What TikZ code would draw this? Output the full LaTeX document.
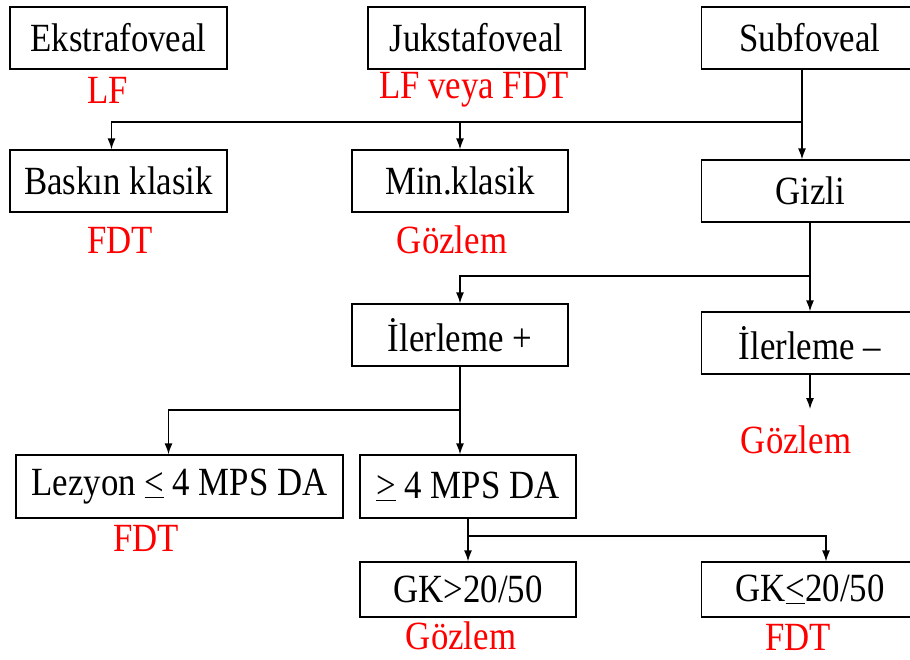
\documentclass[tikz,border=0pt]{standalone}
\usepackage{fontspec}
\setmainfont{Liberation Serif}[FakeStretch=0.87]
\usetikzlibrary{arrows.meta,positioning}
\definecolor{MyRed}{HTML}{FF0000}

\begin{document}
\begin{tikzpicture}[x=1pt,y=-1pt,
            every node/.style={align=center,font=\fontsize{40}{42}\selectfont},
            box/.style={draw,line width=1.3pt,minimum width=217pt,minimum height=62pt,inner sep=0pt},
            res/.style={text=MyRed},
            link/.style={line width=1.3pt,-{Latex[length=11pt,width=8pt]}}
        ]
        \useasboundingbox (0,0) rectangle (910,659);

        % first row
        \node at (118.5,38) [box] (ekstra) {Ekstrafoveal};
        \node at (476.5,38) [box] (juksta) {Jukstafoveal};
        \node at (810,38) [box] (subfo) {Subfoveal};
        \node at (108,90) [res] (lf) {LF};
        \node at (474,90) [res] (lffdt) {LF veya FDT};

        % second row
        \node at (118.5,181) [box] (baskin) {Baskın klasik};
        \node at (460,181) [box,minimum width=216pt] (minkl) {Min.klasik};
        \node at (810,191) [box] (gizli) {Gizli};
        \node at (120,240) [res] (fdta) {FDT};
        \node at (452,240) [res] (gozla) {Gözlem};

        % third row
        \node at (460,335) [box,minimum width=216pt] (ilerp) {İlerleme +};
        \node at (810,343) [box] (ilerm) {İlerleme –};
        \node at (796,440) [res] (gozlb) {Gözlem};

        % fourth row
        \node at (179.5,486.5) [box,minimum width=327pt,minimum height=63pt] (lezyon) {Lezyon \underline{<} 4 MPS DA};
        \node at (468,486.5) [box,minimum width=216pt,minimum height=63pt] (mps) {\underline{>} 4 MPS DA};
        \node at (146,538) [res] (fdtb) {FDT};

        % last row
        \node at (468,589.5) [box,minimum width=216pt,minimum height=55pt] (gkbig) {GK>20/50};
        \node at (810,589.5) [box,minimum height=55pt] (gkless) {GK\underline{<}20/50};
        \node at (461,636) [res] (gozlc) {Gözlem};
        \node at (798,637) [res] (fdtc) {FDT};

        % connectors
        \coordinate (sp1) at (802,122);
        \coordinate (sp2) at (810,276);
        \coordinate (sp3) at (460,410);
        \coordinate (sp4) at (468,536);
        \coordinate (endg) at (810,409);

        \draw[line width=1.3pt] (subfo.south -| sp1) -- (sp1);
        \draw[link] (sp1) -- (gizli.north -| sp1);
        \draw[link] (sp1) -| ([xshift=-7pt]baskin.north);
        \draw[link] (sp1) -| (minkl.north);

        \draw[line width=1.3pt] (gizli.south) -- (sp2);
        \draw[link] (sp2) -- (ilerm.north);
        \draw[link] (sp2) -| (ilerp.north);
        \draw[link] (ilerm.south) -- (endg);

        \draw[line width=1.3pt] (ilerp.south) -- (sp3);
        \draw[link] (sp3) -- (sp3 |- mps.north);
        \draw[link] (sp3) -| ([xshift=-11pt]lezyon.north);

        \draw[line width=1.3pt] (mps.south) -- (sp4);
        \draw[link] (sp4) -- (gkbig.north);
        \draw[link] (sp4) -| ([xshift=16pt]gkless.north);
    \end{tikzpicture}
\end{document}
